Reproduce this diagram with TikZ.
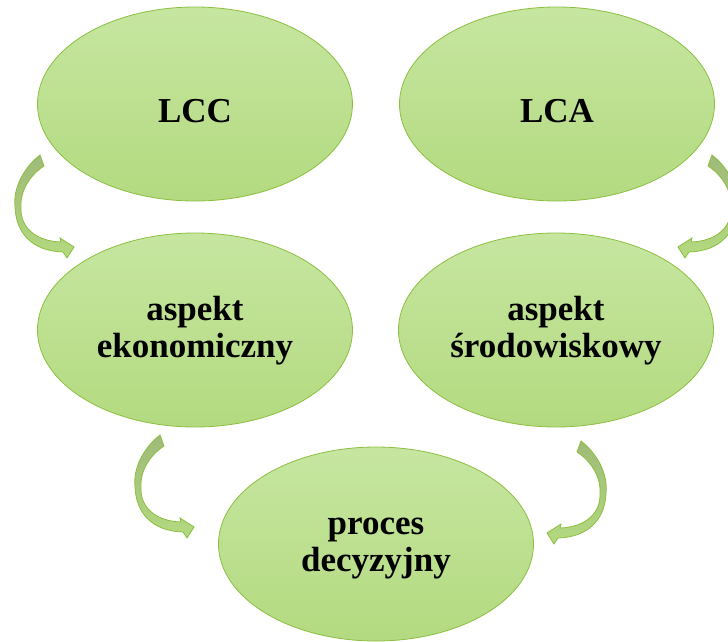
\documentclass[tikz,border=0pt]{standalone}
\usepackage{fontspec}
\setmainfont{Liberation Serif}
\usetikzlibrary{shapes.geometric,calc,positioning}
\definecolor{verdeborde}{HTML}{8CBF3F}
\definecolor{verdeclaro}{HTML}{C6E6A0}
\definecolor{verdemedio}{HTML}{B3DA80}
\definecolor{oliva}{HTML}{9FBA78}

\tikzset{
  globo/.style={ellipse,draw=verdeborde,line width=0.8pt,top color=verdeclaro,
    bottom color=verdemedio,minimum width=315pt,minimum height=194pt,inner sep=0pt,
    align=center,font=\fontsize{35}{37}\selectfont\bfseries,
    text height=46pt,text depth=10pt},
  dwawiersze/.style={text height=64pt},
  flecha/.pic={
    \path[draw=verdeborde,line width=0.8pt,top color=oliva,bottom color=verdemedio]
      (0,0) .. controls (-18,14) and (-27,35) .. (-25,52)
      .. controls (-24,78) and (-8,96) .. (23,97)
      -- (27,103) -- (34,92) -- (20,83) -- (21,87)
      .. controls (-5,86) and (-20,72) .. (-19,52)
      .. controls (-20,36) and (-10,20) .. (4,11) -- cycle;
  }
}

\begin{document}
\begin{tikzpicture}[x=1pt,y=-1pt]
\useasboundingbox (0,0) rectangle (728,641);
% elipsy
\node[globo] (lcc) at (195,104) {LCC};
\node[globo] (lca) at (557,104) {LCA};
\node[globo,dwawiersze] (ekon) at (195,330) {aspekt\\ekonomiczny};
\node[globo,dwawiersze] (srod) at (556,330) {aspekt\\środowiskowy};
\node[globo,dwawiersze] (decyz) at (376,544) {proces\\decyzyjny};
% strzalki
\pic at ($(lcc.center)+(-155,51)$) {flecha};
\pic at ($(ekon.center)+(-35,105)$) {flecha};
\pic[xscale=-1] at ($(lca.center)+(155,51)$) {flecha};
\pic[xscale=-1] at ($(srod.center)+(25,111)$) {flecha};
\end{tikzpicture}
\end{document}
